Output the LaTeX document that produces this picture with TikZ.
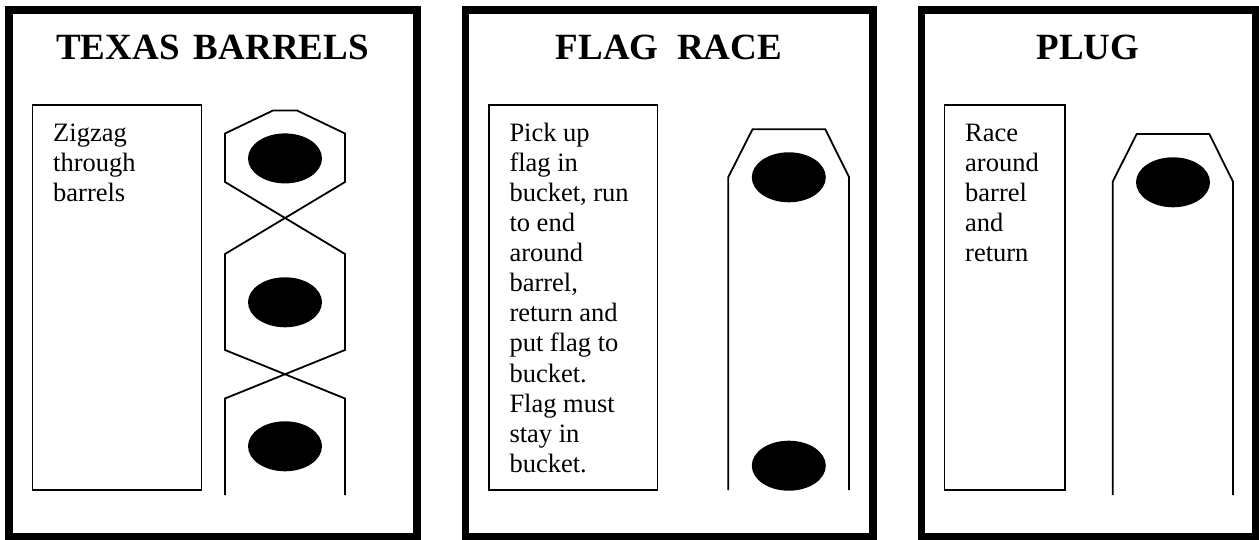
\documentclass[tikz,border=0pt]{standalone}
\usepackage{fontspec}
\setmainfont{Liberation Serif}
\usetikzlibrary{shapes.geometric}
\begin{document}
\begin{tikzpicture}[x=1pt,y=-1pt,
  panelframe/.style={draw, line width=7.5pt, line join=miter},
  track/.style={draw, line width=1.8pt, line join=miter},
  textbox/.style={draw, line width=1.6pt},
  barrel/.style={ellipse, fill=black, inner sep=0pt, minimum width=74pt, minimum height=50pt},
  titletext/.style={font=\fontsize{37}{40}\selectfont\bfseries, inner sep=0pt, anchor=base},
  bodytext/.style={font=\fontsize{26.5}{30.1}\selectfont, align=left, inner sep=0pt, anchor=north west}]
\useasboundingbox (0,0) rectangle (1259,540);
\fill[white] (0,0) rectangle (1259,540);

% ---------- panel 1 : Texas barrels ----------
\draw[panelframe] (9,10) rectangle (417,536.5);
\node[titletext] (title1) at (212.5,60) {TEXAS\hspace{5pt} BARRELS};
\draw[textbox] (32.5,105) rectangle (201.5,490);
\node[bodytext] (text1) at (53,119.93) {\strut Zigzag\\through\\barrels};
\node[barrel] (b11) at (285,158.4) {};
\node[barrel] (b12) at (285,302.3) {};
\node[barrel] (b13) at (285,446.3) {};
\coordinate (h1a) at (225,495);
\coordinate (h1b) at (345,495);
\draw[track] (h1a) -- (225,398.5) -- (345,350) -- (345,254) -- (225,182) -- (225,133.5)
  -- (273,110.5) -- (297,110.5) -- (345,133.5) -- (345,182) -- (225,254) -- (225,350)
  -- (345,398.5) -- (h1b);

% ---------- panel 2 : Flag race ----------
\draw[panelframe] (465.5,10) rectangle (873,536.5);
\node[titletext] (title2) at (669,60) {FLAG\ \ RACE};
\draw[textbox] (489,105) rectangle (657.3,490);
\node[bodytext] (text2) at (509.3,119.93) {\strut Pick up\\flag in\\bucket, run\\to end\\around\\barrel,\\return and\\put flag to\\bucket.\\Flag must\\stay in\\bucket.};
\node[barrel] (b21) at (788.8,177.3) {};
\node[barrel] (b22) at (788.8,465.7) {};
\coordinate (h2a) at (728.3,490);
\coordinate (h2b) at (849,490);
\draw[track] (h2a) -- (728.3,177) -- (752.5,129.3) -- (825.3,129.3) -- (849,177) -- (h2b);

% ---------- panel 3 : Plug ----------
\draw[panelframe] (921.5,10) rectangle (1255.5,536.5);
\node[titletext] (title3) at (1088,60) {PLUG};
\draw[textbox] (944.3,105) rectangle (1065,490);
\node[bodytext] (text3) at (965,119.93) {\strut Race\\around\\barrel\\and\\return};
\node[barrel] (b31) at (1173,182.3) {};
\coordinate (h3a) at (1112.7,495);
\coordinate (h3b) at (1233,495);
\draw[track] (h3a) -- (1112.7,181.7) -- (1136.7,134) -- (1209.3,134) -- (1233,181.7) -- (h3b);
\end{tikzpicture}
\end{document}
